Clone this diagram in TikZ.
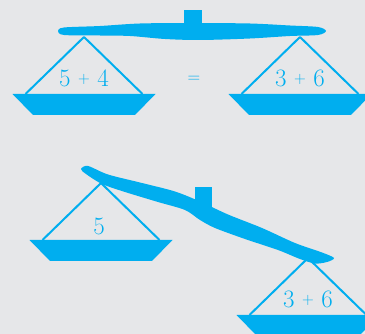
\documentclass[tikz,border=0pt]{standalone}
\usepackage{amsmath,amssymb}
\usepackage{graphicx}
\usepackage{tikz}
\usetikzlibrary{positioning}
\definecolor{scaleblue}{RGB}{0,174,239}
\definecolor{paper}{RGB}{230,231,233}
\newcommand\splus{\raisebox{3pt}{\scalebox{0.65}{+}}}
\tikzset{
    beam/.style = {fill=scaleblue},
    pan/.style = {fill=scaleblue},
    hang/.style = {draw=scaleblue,line width=2pt},
    weight/.style = {text=scaleblue,inner sep=0,font=\fontsize{25}{28}\selectfont}
}

\begin{document}
\begin{tikzpicture}[x=1pt,y=-1pt]
    \newcommand\hsep{58.5}
    \newcommand\vsep{57}
    % Paper
    \fill[paper] (0,0) rectangle (365,334);
    \clip (0,0) rectangle (365,334);
    % Hooks
    \path (84,37) coordinate (A1)
        to +(216,0) coordinate (B1)
    ;
    \path (101,183) coordinate (A2)
        to +(207,75) coordinate (B2)
    ;
    % Beams
    \fill[beam] plot[smooth cycle,tension=0.5] coordinates {
        (58,31) (64,27.5) (100,26) (140,23.5) (192,23) (250,23.5) (290,25.5) (318,27)
        (326,31) (318,35) (290,36) (250,38.5) (200,40) (165,39) (130,36) (100,35.5) (64,35)};
    \fill[beam] (184,10) rectangle (202,27);
    \fill[beam] plot[smooth cycle,tension=0.5] coordinates {
        (81,169) (88,166) (108,174.5) (142,183) (175,191.5) (200,201.5) (228,214.5) (262,228)
        (295,243) (322,252.5) (334,258) (327,262) (315,263.5) (300,259) (278,250) (245,239)
        (215,228) (200,220) (185,210) (158,202) (125,192) (102,184) (86,174)};
    \fill[beam] (195,187) rectangle (212,214);
    % Pans
    \foreach \h in {A1,B1,A2,B2} {
        \path (\h) to +(-\hsep,\vsep) coordinate (\h w)
            to +(\hsep,\vsep) coordinate (\h e);
        \fill[pan] (\h) ++(-71.5,\vsep) -- ++(143,0) -- ++(-20.5,21) -- ++(-102,0) -- cycle;
        \foreach \dest in {\h w,\h e}
            \draw[hang] (\h) to (\dest);
    }
    % Weights
    \path (A1)
        to +(0,41) node[weight] (a1) {5 \splus\ 4}
        to +(110,42) node[weight] (eq) {\scalebox{0.7}{=}}
    ;
    \path (B1) to +(0,41) node[weight] (b1) {3 \splus\ 6};
    \path (A2) to +(-2,43) node[weight] (a2) {5};
    \path (B2) to +(0,41) node[weight] (b2) {3 \splus\ 6};
\end{tikzpicture}
\end{document}
